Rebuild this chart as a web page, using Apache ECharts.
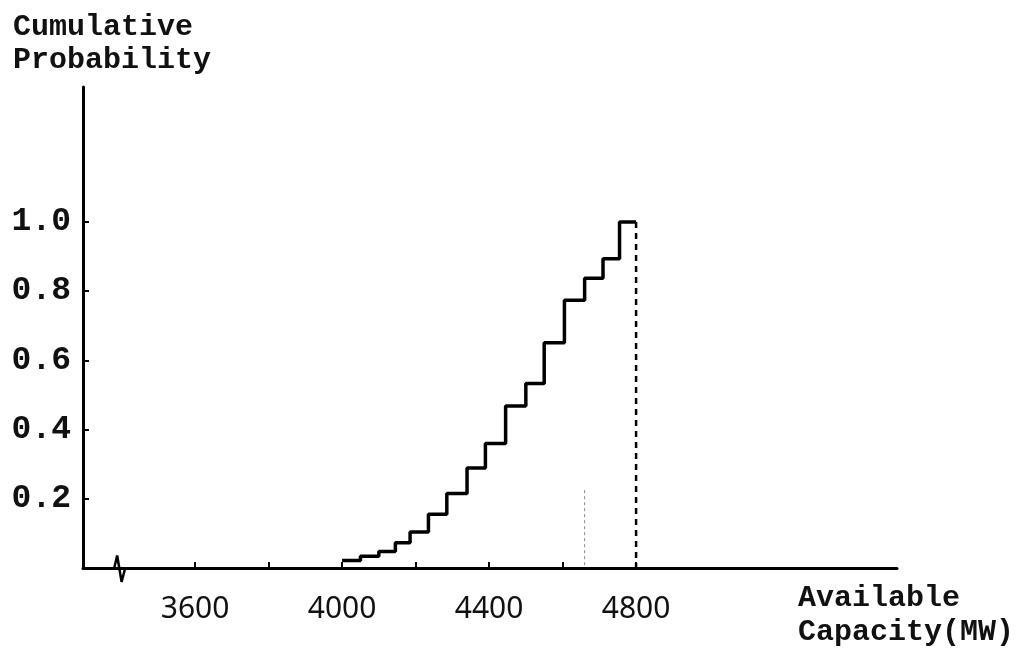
<!DOCTYPE html>
<html>
<head>
<meta charset="utf-8">
<script src="https://cdn.jsdelivr.net/npm/echarts@6/dist/echarts.min.js"></script>
<style>html,body{margin:0;padding:0;background:#fff;}#c{width:1032px;height:654px;}</style>
</head>
<body>
<div id="c"></div>
<script>
// Step breakpoints: available capacity (MW) and cumulative probability
const capacityMW = [4000, 4050, 4100, 4145, 4185, 4235, 4285, 4340, 4390, 4445, 4500, 4550, 4605, 4660, 4710, 4755, 4800];
const cumProb    = [0.022, 0.034, 0.048, 0.073, 0.104, 0.155, 0.215, 0.289, 0.36, 0.468, 0.533, 0.651, 0.774, 0.837, 0.894, 1.0, 1.0];
const xLabelValues = [3600, 4000, 4400, 4800];
const xTickValues = [3600, 3800, 4000, 4200, 4400, 4600, 4800];
const yTickValues = [0.2, 0.4, 0.6, 0.8, 1.0];
const yLabelText = ['0.2', '0.4', '0.6', '0.8', '1.0'];
const maxCapacity = 4800;
const faintMarkMW = 4660, faintMarkTop = 0.225;
const axisBreakMW = [3380, 3388, 3400, 3410];
const axisBreakY = [0, 0.036, -0.04, 0];

const chart = echarts.init(document.getElementById('c'), null, {renderer: 'canvas'});
const mono = '"Liberation Mono", "DejaVu Sans Mono", monospace';
const option = {
  animation: false,
  backgroundColor: '#ffffff',
  title: [
    {text: 'Cumulative\nProbability', left: 8, top: 6,
     textStyle: {fontFamily: mono, fontSize: 30, fontWeight: 'bold', color: '#111', lineHeight: 33}},
    {text: 'Available\nCapacity(MW)', left: 793, top: 576,
     textStyle: {fontFamily: mono, fontSize: 30, fontWeight: 'bold', color: '#111', lineHeight: 34}}
  ],
  grid: {left: 83, right: 135, top: 87, bottom: 86, containLabel: false},
  xAxis: {
    type: 'value', min: 3295, max: 5510,
    axisLine: {lineStyle: {color: '#000', width: 3}},
    splitLine: {show: false},
    axisTick: {inside: true, length: 6, lineStyle: {color: '#000', width: 2}, customValues: xTickValues},
    axisLabel: {customValues: xLabelValues, margin: 26, fontFamily: '"Noto Sans", sans-serif', fontSize: 30, color: '#111',
      formatter: v => String(Math.round(v))}
  },
  yAxis: {
    type: 'value', min: 0, max: 1.39,
    axisLine: {lineStyle: {color: '#000', width: 3}},
    splitLine: {show: false},
    axisTick: {inside: true, length: 6, lineStyle: {color: '#000', width: 2}, customValues: yTickValues},
    axisLabel: {customValues: yTickValues, margin: 12, fontFamily: mono, fontSize: 33, fontWeight: 'bold', color: '#111',
      formatter: v => { const i = yTickValues.findIndex(t => Math.abs(t - v) < 1e-6); return i >= 0 ? yLabelText[i] : ''; }}
  },
  series: [
    {type: 'line', step: 'end', symbol: 'none',
     data: capacityMW.map((x, i) => [x, cumProb[i]]),
     lineStyle: {color: '#000', width: 3.5}},
    {type: 'line', symbol: 'none',
     data: [[maxCapacity, cumProb[cumProb.length - 1]], [maxCapacity, 0]],
     lineStyle: {color: '#000', width: 2.5, type: [6, 5]}},
    {type: 'line', symbol: 'none',
     data: [[faintMarkMW, faintMarkTop], [faintMarkMW, 0]],
     lineStyle: {color: '#888', width: 1, type: [3, 3]}},
    {type: 'line', symbol: 'none', clip: false,
     data: axisBreakMW.map((x, i) => [x, axisBreakY[i]]),
     lineStyle: {color: '#000', width: 2.5}}
  ]
};
chart.setOption(option);
</script>
</body>
</html>
